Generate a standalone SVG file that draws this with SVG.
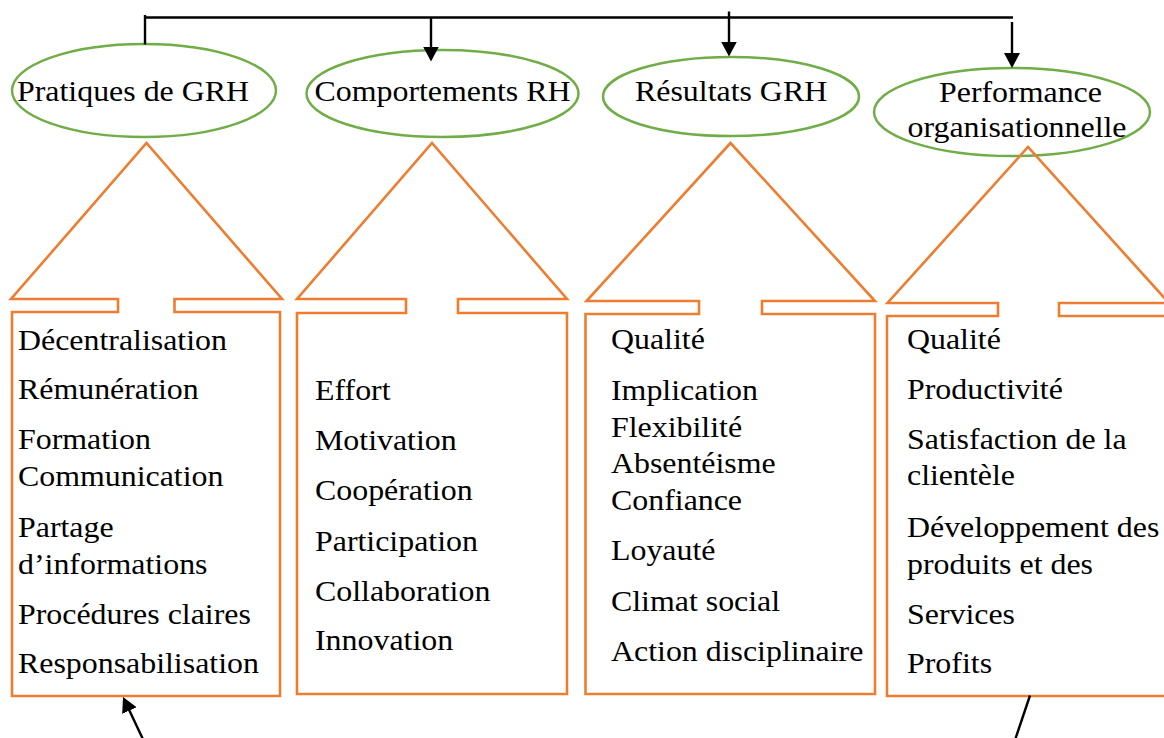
<svg xmlns="http://www.w3.org/2000/svg" width="1164" height="738" viewBox="0 0 1164 738">
  <style>
    .bg { fill: #ffffff; }
    .oval { fill: #ffffff; stroke: #70AD47; stroke-width: 2.5; }
    .callout { fill: none; stroke: #ED7D31; stroke-width: 2.6; stroke-linejoin: miter; }
    .wire { fill: none; stroke: #000000; stroke-width: 2.4; }
    .txt { font-family: "Liberation Serif", "Times New Roman", serif; font-size: 29px; fill: #000000; }
  </style>
  <defs>
    <marker id="ah" markerUnits="userSpaceOnUse" viewBox="0 0 15 16" refX="12" refY="8" markerWidth="15" markerHeight="16" orient="auto">
      <path d="M0,0 L15,8 L0,16 Z" fill="#000000"/>
    </marker>
  </defs>

  <rect class="bg" x="0" y="0" width="1164" height="738"/>

  <!-- ovals -->
  <g id="node-pratiques">
    <ellipse class="oval" cx="144" cy="90.5" rx="132" ry="46.5"/>
    <text class="txt" transform="translate(17 101) scale(1.1 1)">Pratiques de GRH</text>
  </g>
  <g id="node-comportements">
    <ellipse class="oval" cx="442.5" cy="93.5" rx="136" ry="43.5"/>
    <text class="txt" transform="translate(314.5 101) scale(1.1 1)">Comportements RH</text>
  </g>
  <g id="node-resultats">
    <ellipse class="oval" cx="731" cy="96.5" rx="128" ry="39.5"/>
    <text class="txt" transform="translate(635 101) scale(1.1 1)">Résultats GRH</text>
  </g>
  <g id="node-performance">
    <ellipse class="oval" cx="1012" cy="112" rx="138" ry="44"/>
    <text class="txt" transform="translate(939 102) scale(1.1 1)">Performance</text>
    <text class="txt" transform="translate(907.5 137) scale(1.1 1)">organisationnelle</text>
  </g>

  <!-- up-arrow callouts, outline only, laid over the ovals -->
  <g id="callout-pratiques">
    <path class="callout" d="M12,696 L12,312 L118,312 L118,299 L11,299 L146.5,143 L282,299 L174.5,299 L174.5,312 L280,312 L280,696 Z"/>
    <text class="txt" transform="translate(18 350) scale(1.1 1)">Décentralisation</text>
    <text class="txt" transform="translate(18 399) scale(1.1 1)">Rémunération</text>
    <text class="txt" transform="translate(18 449) scale(1.1 1)">Formation</text>
    <text class="txt" transform="translate(18 486) scale(1.1 1)">Communication</text>
    <text class="txt" transform="translate(18 537) scale(1.1 1)">Partage</text>
    <text class="txt" transform="translate(18 574) scale(1.1 1)">d’informations</text>
    <text class="txt" transform="translate(18 624) scale(1.1 1)">Procédures claires</text>
    <text class="txt" transform="translate(18 673) scale(1.1 1)">Responsabilisation</text>
  </g>

  <g id="callout-comportements">
    <path class="callout" d="M297,694 L297,313 L406,313 L406,299 L297,299 L432,143 L567,299 L458,299 L458,313 L567,313 L567,694 Z"/>
    <text class="txt" transform="translate(315 400) scale(1.1 1)">Effort</text>
    <text class="txt" transform="translate(315 450) scale(1.1 1)">Motivation</text>
    <text class="txt" transform="translate(315 500) scale(1.1 1)">Coopération</text>
    <text class="txt" transform="translate(315 551) scale(1.1 1)">Participation</text>
    <text class="txt" transform="translate(315 601) scale(1.1 1)">Collaboration</text>
    <text class="txt" transform="translate(315 650) scale(1.1 1)">Innovation</text>
  </g>

  <g id="callout-resultats">
    <path class="callout" d="M585.5,694 L585.5,314 L699,314 L699,301 L586.5,301 L730.5,143 L875,301 L762,301 L762,314 L875,314 L875,694 Z"/>
    <text class="txt" transform="translate(611 349) scale(1.1 1)">Qualité</text>
    <text class="txt" transform="translate(611 400) scale(1.1 1)">Implication</text>
    <text class="txt" transform="translate(611 437) scale(1.1 1)">Flexibilité</text>
    <text class="txt" transform="translate(611 473) scale(1.1 1)">Absentéisme</text>
    <text class="txt" transform="translate(611 510) scale(1.1 1)">Confiance</text>
    <text class="txt" transform="translate(611 560) scale(1.1 1)">Loyauté</text>
    <text class="txt" transform="translate(611 611) scale(1.1 1)">Climat social</text>
    <text class="txt" transform="translate(611 661) scale(1.1 1)">Action disciplinaire</text>
  </g>

  <g id="callout-performance">
    <path class="callout" d="M887,696 L887,316 L998,316 L998,303 L887.5,303 L1028,147 L1169,303 L1059,303 L1059,316 L1168,316 L1168,696 Z"/>
    <text class="txt" transform="translate(907 349) scale(1.1 1)">Qualité</text>
    <text class="txt" transform="translate(907 399) scale(1.1 1)">Productivité</text>
    <text class="txt" transform="translate(907 449) scale(1.1 1)">Satisfaction de la</text>
    <text class="txt" transform="translate(907 485) scale(1.1 1)">clientèle</text>
    <text class="txt" transform="translate(907 537) scale(1.1 1)">Développement des</text>
    <text class="txt" transform="translate(907 574) scale(1.1 1)">produits et des</text>
    <text class="txt" transform="translate(907 624) scale(1.1 1)">Services</text>
    <text class="txt" transform="translate(907 673) scale(1.1 1)">Profits</text>
  </g>

  <!-- connectors -->
  <g id="connectors">
    <path class="wire" d="M145,17.5 L1013,17.5"/>
    <path class="wire" d="M145,15 L145,44.5"/>
    <path class="wire" d="M431,17.5 L431,58.5" marker-end="url(#ah)"/>
    <path class="wire" d="M729,11.5 L729,53.5" marker-end="url(#ah)"/>
    <path class="wire" d="M1012,22 L1012,65" marker-end="url(#ah)"/>
    <path class="wire" d="M145.7,745 L124.3,699.7" stroke-width="3.2" marker-end="url(#ah)"/>
    <path class="wire" d="M1030,695.5 L1015,740"/>
  </g>
</svg>
